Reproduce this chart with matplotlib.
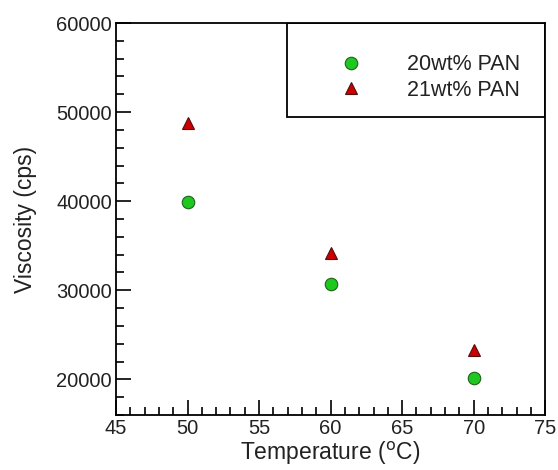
import matplotlib.pyplot as plt
from matplotlib.patches import Rectangle
from matplotlib.ticker import MultipleLocator

plt.rcParams['font.family'] = ['Liberation Sans', 'DejaVu Sans']

temps = [50, 60, 70]
pan20 = [39900, 30650, 20200]
pan21 = [48800, 34200, 23350]
labels = ['20wt% PAN', '21wt% PAN']

fig = plt.figure(figsize=(5.58, 4.70), dpi=100)
ax = fig.add_axes([0.208, 0.117, 0.769, 0.834])

ax.plot(temps, pan20, 'o', color='#1ec81e', markeredgecolor='#206020', markeredgewidth=0.8,
        markersize=9, linestyle='none', label=labels[0])
ax.plot(temps, pan21, '^', color='#cc0000', markeredgecolor='#501010', markeredgewidth=0.8,
        markersize=9, linestyle='none', label=labels[1])

ax.set_xlim(45, 75)
ax.set_ylim(16000, 60000)
ax.xaxis.set_major_locator(MultipleLocator(5))
ax.xaxis.set_minor_locator(MultipleLocator(1))
ax.yaxis.set_major_locator(MultipleLocator(10000))
ax.yaxis.set_minor_locator(MultipleLocator(2000))
ax.tick_params(which='both', direction='in', top=False, right=False, labelsize=14.5,
               width=1.2, colors='black', labelcolor='#222222')
ax.tick_params(which='major', length=11, pad=3)
ax.tick_params(which='minor', length=6)
for s in ax.spines.values():
    s.set_linewidth(1.3)

ax.set_xlabel('Temperature ($^{\\mathrm{o}}$C)', fontsize=16.5, labelpad=1, color='#222222')
ax.set_ylabel('Viscosity (cps)', fontsize=16.5, labelpad=14, color='#222222')

ax.add_patch(Rectangle((0.399, 0.76), 0.601, 0.24, transform=ax.transAxes,
                       fill=False, edgecolor='black', linewidth=1.3, zorder=5))
ax.legend(loc='center', bbox_to_anchor=(0.733, 0.861), frameon=False, fontsize=15.5,
          handletextpad=2.1, labelspacing=0.2, handlelength=1, labelcolor='#222222')

fig.savefig('out.png', dpi=100)
